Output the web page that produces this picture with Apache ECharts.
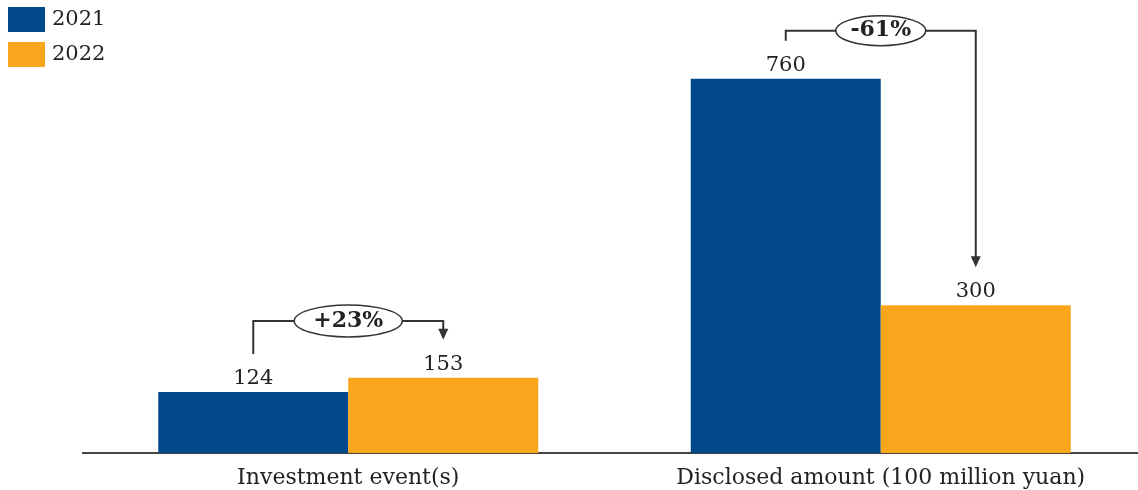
<!DOCTYPE html>
<html>
<head>
<meta charset="utf-8">
<script src="https://cdn.jsdelivr.net/npm/echarts@6/dist/echarts.min.js"></script>
<style>
  html, body { margin: 0; padding: 0; background: #fff; }
  #chart { width: 1138px; height: 490px; }
</style>
</head>
<body>
<div id="chart"></div>
<script>
var categories = ['Investment event(s)', 'Disclosed amount (100 million yuan)'];
var years = ['2021', '2022'];
var values2021 = [124, 760];
var values2022 = [153, 300];
var changeLabels = ['+23%', '-61%'];

var blue = '#01498a';
var orange = '#f9a61d';
var ink = '#222';
var font = 'DejaVu Serif';

var chart = echarts.init(document.getElementById('chart'));

var barLabel = {
    show: true,
    position: 'top',
    distance: 3,
    color: ink,
    fontFamily: font,
    fontSize: 21
};

chart.setOption({
    animation: false,
    legend: {
        orient: 'vertical',
        left: 8,
        top: 7,
        padding: 0,
        itemWidth: 37,
        itemHeight: 25,
        itemGap: 10,
        icon: 'rect',
        textStyle: { color: ink, fontFamily: font, fontSize: 21, padding: [0, 0, 0, 2] },
        data: years
    },
    grid: { left: 82, width: 1065, top: 59, bottom: 37, outerBoundsMode: 'none', containLabel: false },
    xAxis: {
        type: 'category',
        data: categories,
        axisTick: { show: false },
        axisLine: { show: false },
        axisLabel: { color: ink, fontFamily: font, fontSize: 22, margin: 14, interval: 0, hideOverlap: false }
    },
    yAxis: {
        type: 'value',
        min: 0,
        max: 800,
        show: false,
        splitLine: { show: false }
    },
    series: [
        { name: years[0], type: 'bar', data: values2021, barWidth: 190, barGap: '0%',
          itemStyle: { color: blue }, label: barLabel },
        { name: years[1], type: 'bar', data: values2022, barWidth: 190, barGap: '0%',
          itemStyle: { color: orange }, label: barLabel }
    ]
});

function barTop(seriesIndex, i) {
    var lay = chart.getModel().getSeriesByIndex(seriesIndex).getData().getItemLayout(i);
    return { x: lay.x + lay.width / 2, y: Math.min(lay.y, lay.y + lay.height) };
}

// bracket rise above start point, per annotation (px)
var rise = [33, 10];
var ellipseR = [[54, 16], [45, 15]];

var base = chart.convertToPixel({ yAxisIndex: 0 }, 0);
var elements = [{
    type: 'line',
    shape: { x1: 82, y1: base, x2: 1138, y2: base },
    style: { stroke: '#444', lineWidth: 2 }
}];

for (var i = 0; i < categories.length; i++) {
    var a = barTop(0, i);
    var b = barTop(1, i);
    var y0 = a.y - 38;
    var yh = y0 - rise[i];
    var tip = b.y - 38;
    var cx = (a.x + b.x) / 2;
    elements.push({
        type: 'polyline',
        shape: { points: [[a.x, y0], [a.x, yh], [b.x, yh], [b.x, tip - 9]] },
        style: { stroke: '#333', lineWidth: 2, fill: null }
    });
    elements.push({
        type: 'polygon',
        shape: { points: [[b.x - 5, tip - 11], [b.x + 5, tip - 11], [b.x, tip]] },
        style: { fill: '#333' }
    });
    elements.push({
        type: 'ellipse',
        shape: { cx: cx, cy: yh, rx: ellipseR[i][0], ry: ellipseR[i][1] },
        style: { fill: '#fff', stroke: '#333', lineWidth: 1.5 }
    });
    elements.push({
        type: 'text',
        x: cx,
        y: yh,
        style: {
            text: changeLabels[i], fill: ink, fontFamily: font, fontSize: 22,
            fontWeight: 'bold', align: 'center', verticalAlign: 'middle'
        }
    });
}

chart.setOption({ graphic: { elements: elements } });
</script>
</body>
</html>
